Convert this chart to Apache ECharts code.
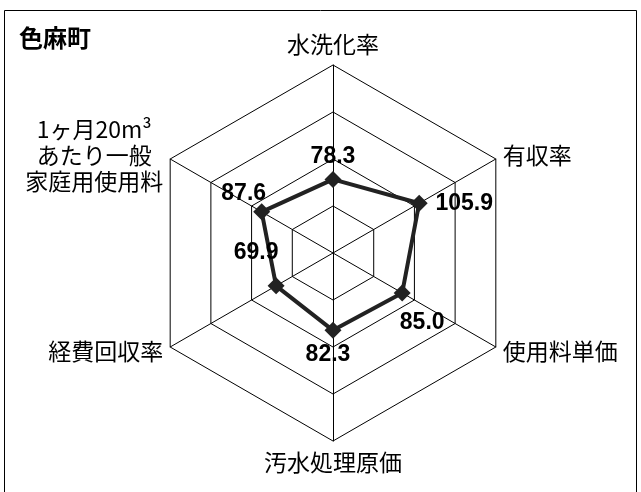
<!DOCTYPE html>
<html>
<head>
<meta charset="utf-8">
<script src="https://cdn.jsdelivr.net/npm/echarts@6/dist/echarts.min.js"></script>
<style>
  html, body { margin: 0; padding: 0; background: #fff; }
  #main { width: 641px; height: 492px; }
</style>
</head>
<body>
<div id="main"></div>
<script>
// indicators in echarts order (top, then counterclockwise)
var indicatorNames = ['水洗化率', '1ヶ月20m³\nあたり一般\n家庭用使用料', '経費回収率', '汚水処理原価', '使用料単価', '有収率'];
var values = [78.3, 87.6, 69.9, 82.3, 85.0, 105.9];
var labelOffsets = [[0, -23], [-18, -18], [-20, -33], [-5, 24], [20, 30], [45, 0]];
var maxValue = 200;

var myChart = echarts.init(document.getElementById('main'));

var seriesData = [{
    value: values,
    symbol: 'diamond',
    symbolSize: 17,
    lineStyle: { color: '#222', width: 4 },
    itemStyle: { color: '#222' },
    label: { show: false }
}];

values.forEach(function (v, i) {
    seriesData.push({
        value: values,
        symbol: 'circle',
        symbolSize: 1,
        lineStyle: { color: 'rgba(0,0,0,0)', width: 0 },
        itemStyle: { color: 'rgba(0,0,0,0)' },
        label: {
            show: true,
            position: 'inside',
            offset: labelOffsets[i],
            color: '#000',
            fontFamily: '"Liberation Sans Narrow", "Arial Narrow", "Liberation Sans", sans-serif',
            fontWeight: 'bold',
            fontSize: 23,
            formatter: function (p) {
                return p.value === v ? v.toFixed(1) : '';
            }
        }
    });
});

var option = {
    animation: false,
    title: {
        text: '色麻町',
        left: 14,
        top: 21,
        textStyle: {
            fontFamily: 'Noto Sans CJK JP',
            fontWeight: 'bold',
            fontSize: 24,
            color: '#000'
        }
    },
    graphic: [{
        type: 'rect',
        shape: { x: 4.5, y: 10.5, width: 632, height: 520 },
        style: { fill: 'none', stroke: '#000', lineWidth: 1 },
        silent: true
    }],
    radar: {
        center: [333, 253],
        radius: 188,
        startAngle: 90,
        splitNumber: 4,
        shape: 'polygon',
        indicator: indicatorNames.map(function (n) {
            return { name: n, min: 0, max: maxValue };
        }),
        nameGap: 8,
        axisName: {
            color: '#000',
            fontFamily: 'Noto Sans CJK JP',
            fontSize: 23,
            lineHeight: 26,
            formatter: function (name) {
                return name.split('\n').map(function (s) { return '{c|' + s + '}'; }).join('\n');
            },
            rich: {
                c: { align: 'center', fontSize: 23, lineHeight: 26, color: '#000', fontFamily: 'Noto Sans CJK JP' }
            }
        },
        axisLine: { lineStyle: { color: '#000', width: 1 } },
        splitLine: { lineStyle: { color: '#000', width: 1 } },
        splitArea: { show: false },
        axisTick: { show: false },
        axisLabel: { show: false }
    },
    series: [{
        type: 'radar',
        silent: true,
        emphasis: { disabled: true },
        data: seriesData
    }]
};
myChart.setOption(option);
</script>
</body>
</html>
